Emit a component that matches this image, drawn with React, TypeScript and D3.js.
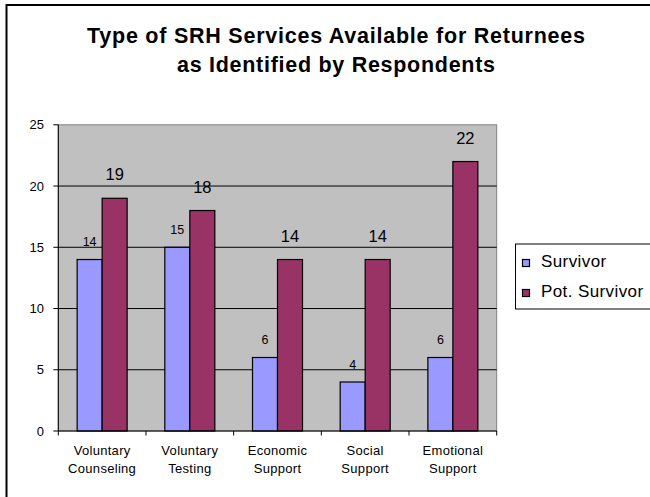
import React from "react";
import * as d3 from "d3";

const categories: string[][] = [
  ["Voluntary", "Counseling"],
  ["Voluntary", "Testing"],
  ["Economic", "Support"],
  ["Social", "Support"],
  ["Emotional", "Support"],
];
const seriesNames = ["Survivor", "Pot. Survivor"];
const survivor = [14, 15, 6, 4, 6];
const potSurvivor = [19, 18, 14, 14, 22];
const yTicks = [0, 5, 10, 15, 20, 25];
const colors = ["#9999FF", "#993366"];
const titleLines = ["Type of SRH Services Available for Returnees", "as Identified by Respondents"];

const W = 650;
const H = 497;
const plot = { left: 58.3, right: 496.7, top: 124.8, bottom: 431 };
const FONT = "Arial, 'Liberation Sans', sans-serif";

export default function App() {
  const keys = categories.map((c) => c.join(" "));
  const x0 = d3.scaleBand<string>().domain(keys).range([plot.left, plot.right]).padding(0);
  const bw = 25;
  const x1 = d3.scaleBand<string>().domain(seriesNames).range([0, bw * 2]).padding(0);
  const y = d3.scaleLinear().domain([0, 25]).range([plot.bottom, plot.top]);
  const series = [survivor, potSurvivor];
  const bandW = x0.bandwidth();
  const offset = (bandW - bw * 2) / 2;

  return (
    <svg
      width={W}
      height={H}
      style={{ position: "absolute", left: 0, top: 0, background: "#fff" }}
      fontFamily={FONT}
    >
      <rect x={6.5} y={5} width={700} height={600} fill="#fff" stroke="#000" strokeWidth={2} />
      {/* title */}
      <text x={336} y={42.5} textAnchor="middle" fontSize={21.5} fontWeight="bold" textLength={498} lengthAdjust="spacing">
        {titleLines[0]}
      </text>
      <text x={336} y={71.5} textAnchor="middle" fontSize={21.5} fontWeight="bold" textLength={318} lengthAdjust="spacing">
        {titleLines[1]}
      </text>
      {/* plot area */}
      <rect x={plot.left} y={plot.top} width={plot.right - plot.left} height={plot.bottom - plot.top} fill="#C0C0C0" stroke="#808080" strokeWidth={1} />
      {yTicks.filter((t) => t > 0 && t < 25).map((t) => (
        <line key={t} x1={plot.left} x2={plot.right} y1={y(t)} y2={y(t)} stroke="#000" strokeWidth={1} />
      ))}
      {/* bars */}
      {series.map((vals, si) =>
        vals.map((v, i) => {
          const bx = (x0(keys[i]) as number) + offset + (x1(seriesNames[si]) as number);
          return (
            <rect key={`${si}-${i}`} x={bx} y={y(v)} width={x1.bandwidth()} height={y(0) - y(v)} fill={colors[si]} stroke="#000" strokeWidth={1.2} />
          );
        })
      )}
      {/* value labels */}
      {series.map((vals, si) =>
        vals.map((v, i) => {
          const cx = (x0(keys[i]) as number) + offset + (x1(seriesNames[si]) as number) + x1.bandwidth() / 2;
          return (
            <text key={`l${si}-${i}`} x={cx} y={y(v) - (si === 0 ? 13.5 : 18)} textAnchor="middle" fontSize={si === 0 ? 12.5 : 16.5}>
              {v}
            </text>
          );
        })
      )}
      {/* axes */}
      <line x1={plot.left} x2={plot.left} y1={plot.top} y2={plot.bottom} stroke="#000" strokeWidth={1} />
      <line x1={plot.left} x2={plot.right} y1={plot.bottom} y2={plot.bottom} stroke="#000" strokeWidth={1} />
      {yTicks.map((t) => (
        <g key={`yt${t}`}>
          <line x1={plot.left - 5} x2={plot.left} y1={y(t)} y2={y(t)} stroke="#000" />
          <text x={44} y={y(t) + 4.5} textAnchor="end" fontSize={13}>
            {t}
          </text>
        </g>
      ))}
      {keys.map((k, i) => (
        <line key={`xt${i}`} x1={x0(k) as number} x2={x0(k) as number} y1={plot.bottom} y2={plot.bottom + 4.5} stroke="#000" />
      ))}
      <line x1={plot.right} x2={plot.right} y1={plot.bottom} y2={plot.bottom + 4.5} stroke="#000" />
      {categories.map((c, i) => (
        <text key={`xl${i}`} x={(x0(keys[i]) as number) + bandW / 2} textAnchor="middle" fontSize={13} letterSpacing={0.3}>
          <tspan x={(x0(keys[i]) as number) + bandW / 2} y={455}>{c[0]}</tspan>
          <tspan x={(x0(keys[i]) as number) + bandW / 2} y={473}>{c[1]}</tspan>
        </text>
      ))}
      {/* legend */}
      <rect x={515.5} y={244} width={200} height={65} fill="#fff" stroke="#000" strokeWidth={1} />
      {seriesNames.map((s, i) => (
        <g key={s}>
          <rect x={522.5} y={259.5 + i * 30} width={7} height={7} fill={colors[i]} stroke="#000" strokeWidth={1.2} />
          <text x={541} y={266.5 + i * 30} fontSize={17} letterSpacing={0.4}>
            {s}
          </text>
        </g>
      ))}
    </svg>
  );
}
